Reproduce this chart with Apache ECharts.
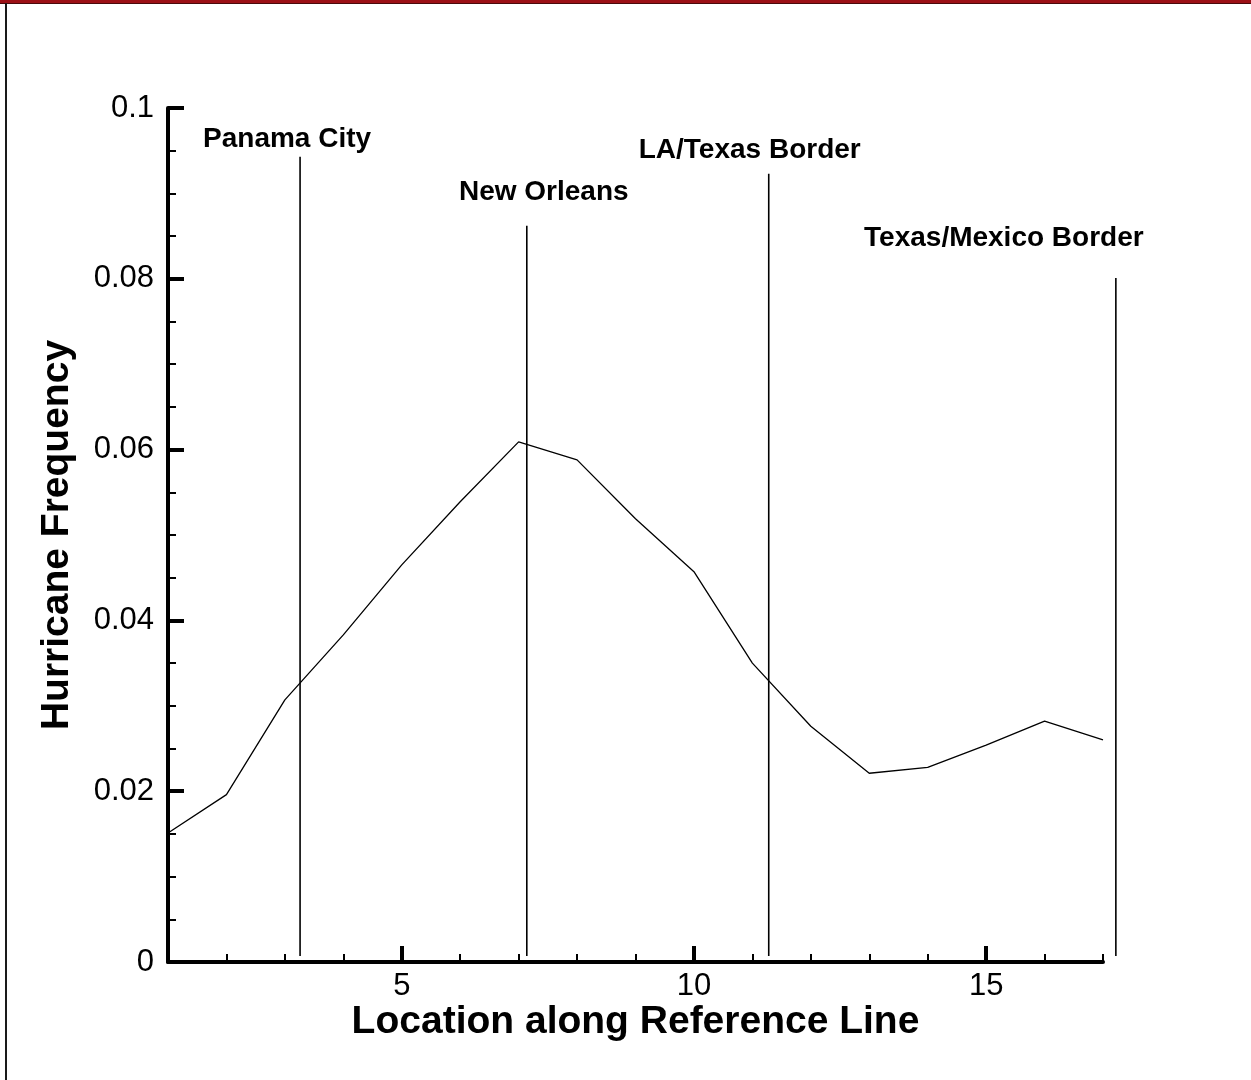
<!DOCTYPE html>
<html>
<head>
<meta charset="utf-8">
<title>Hurricane Frequency along Reference Line</title>
<script src="https://cdn.jsdelivr.net/npm/echarts@6/dist/echarts.min.js"></script>
<style>
  html, body { margin: 0; padding: 0; background: #fff; }
  #chart { width: 1251px; height: 1080px; }
</style>
</head>
<body>
<div id="chart"></div>
<script>
// Location index along the coastal reference line
const locations = [1, 2, 3, 4, 5, 6, 7, 8, 9, 10, 11, 12, 13, 14, 15, 16, 17];
// Hurricane frequency at each location
const frequency = [0.0151, 0.0196, 0.0307, 0.0383, 0.0465, 0.0539, 0.0609, 0.0588, 0.0519,
                   0.0457, 0.0350, 0.0276, 0.0221, 0.0228, 0.0254, 0.0282, 0.0260];

// Coastal landmarks: position along the line and the height of their marker
const markerNames = ['Panama City', 'New Orleans', 'LA/Texas Border', 'Texas/Mexico Border'];
const markerX = [3.26, 7.14, 11.28, 17.22];
const markerTop = [0.0943, 0.0862, 0.0923, 0.0801];
const markerBottom = 0.0007;

// Axis tick values
const xMajorTicks = [5, 10, 15];
const xMinorTicks = [1, 2, 3, 4, 6, 7, 8, 9, 11, 12, 13, 14, 16, 17];

// Pixel offsets of each landmark label centre from the top of its marker
const labelOffsets = [[-13, -17], [17, -34], [-19, -23], [-112, -40]];

const FONT = '"Liberation Sans", Arial, Helvetica, sans-serif';

const chart = echarts.init(document.getElementById('chart'), null, { renderer: 'canvas' });

// Landmark markers: a vertical rule with a bold caption above it
const markerSeries = {
  name: 'Landmarks',
  type: 'custom',
  xAxisIndex: 0,
  yAxisIndex: 0,
  silent: true,
  clip: false,
  z: 3,
  dimensions: ['x', 'top', 'bottom'],
  encode: { x: 0, y: [1, 2] },
  data: markerNames.map((n, i) => [markerX[i], markerTop[i], markerBottom]),
  renderItem: function (params, api) {
    const i = params.dataIndex;
    const top = api.coord([api.value(0), api.value(1)]);
    const bot = api.coord([api.value(0), api.value(2)]);
    const off = labelOffsets[i];
    return {
      type: 'group',
      children: [
        {
          type: 'line',
          shape: { x1: top[0], y1: top[1], x2: bot[0], y2: bot[1] },
          style: { stroke: '#000', lineWidth: 1.6 }
        },
        {
          type: 'text',
          x: top[0] + off[0],
          y: top[1] + off[1],
          style: {
            text: markerNames[i],
            align: 'center',
            verticalAlign: 'middle',
            fill: '#000',
            fontFamily: FONT,
            fontWeight: 'bold',
            fontSize: 28
          }
        }
      ]
    };
  }
};

const option = {
  backgroundColor: '#fff',
  animation: false,
  graphic: [
    // frame: dark red band across the top, dark rule down the left edge
    { type: 'rect', left: 0, top: 0, shape: { width: 1251, height: 3 }, style: { fill: '#9c1016' }, z: 10 },
    { type: 'rect', left: 0, top: 3, shape: { width: 1251, height: 1 }, style: { fill: '#4a0a0c' }, z: 10 },
    { type: 'rect', left: 5, top: 3, shape: { width: 2, height: 1077 }, style: { fill: '#1a1a1a' }, z: 10 }
  ],
  grid: { left: 168, top: 108, width: 935, height: 854, containLabel: false },
  xAxis: [
    {
      type: 'value',
      min: 1,
      max: 17,
      name: 'Location along Reference Line',
      nameLocation: 'middle',
      nameGap: 41,
      nameTextStyle: { fontFamily: FONT, fontWeight: 'bold', fontSize: 39, color: '#000' },
      axisLine: { show: true, onZero: false, lineStyle: { color: '#000', width: 4 } },
      axisTick: { show: true, inside: true, length: 8, customValues: xMinorTicks, lineStyle: { color: '#000', width: 2 } },
      axisLabel: { show: false },
      splitLine: { show: false }
    },
    {
      type: 'value',
      min: 1,
      max: 17,
      position: 'bottom',
      axisLine: { show: false },
      axisTick: { show: true, inside: true, length: 16, customValues: xMajorTicks, lineStyle: { color: '#000', width: 4 } },
      axisLabel: {
        show: true,
        customValues: xMajorTicks,
        margin: 9,
        color: '#000',
        fontFamily: FONT,
        fontSize: 31
      },
      splitLine: { show: false }
    }
  ],
  yAxis: {
    type: 'value',
    min: 0,
    max: 0.1,
    interval: 0.02,
    name: 'Hurricane Frequency',
    nameLocation: 'middle',
    nameRotate: 90,
    nameGap: 91,
    nameTextStyle: { fontFamily: FONT, fontWeight: 'bold', fontSize: 39, color: '#000' },
    axisLine: { show: true, onZero: false, lineStyle: { color: '#000', width: 4 } },
    axisTick: { show: true, inside: true, length: 16, lineStyle: { color: '#000', width: 4 } },
    minorTick: { show: true, splitNumber: 4, length: 8, lineStyle: { color: '#000', width: 2 } },
    axisLabel: {
      margin: 14,
      color: '#000',
      fontFamily: FONT,
      fontSize: 31,
      formatter: v => (v === 0 ? '0' : String(+v.toFixed(2)))
    },
    splitLine: { show: false },
    minorSplitLine: { show: false }
  },
  series: [
    {
      name: 'Hurricane Frequency',
      type: 'line',
      xAxisIndex: 0,
      yAxisIndex: 0,
      showSymbol: false,
      symbol: 'none',
      lineStyle: { color: '#000', width: 1.3 },
      z: 4,
      data: locations.map((x, i) => [x, frequency[i]])
    },
    markerSeries
  ]
};

chart.setOption(option);
</script>
</body>
</html>
